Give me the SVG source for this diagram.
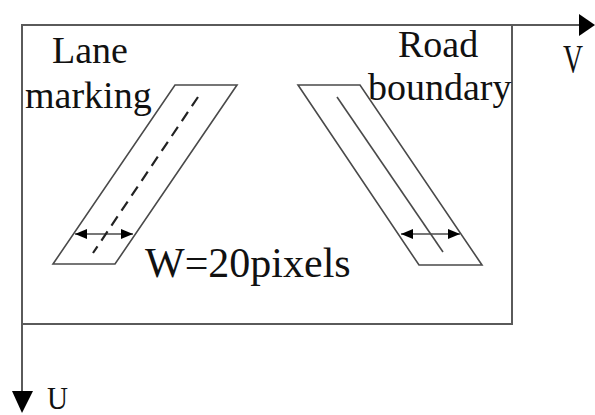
<svg xmlns="http://www.w3.org/2000/svg" width="595" height="415" viewBox="0 0 595 415">
<style>
.ax{stroke:#5a5a5a;stroke-width:2;fill:none}
.sh{stroke:#4a4a4a;stroke-width:1.6;fill:none}
.dash{stroke:#222;stroke-width:2.2;fill:none;stroke-dasharray:11,7}
.t{font-family:"Liberation Serif","Times New Roman",serif;fill:#111}
.ah{fill:#000}
</style>
<defs>
<marker id="a" viewBox="0 0 12 10" refX="12" refY="5" markerWidth="12" markerHeight="10" markerUnits="userSpaceOnUse" orient="auto-start-reverse">
<path d="M0,0 L12,5 L0,10 Z" fill="#000"/>
</marker>
</defs>
<rect width="595" height="415" fill="#fff"/>
<g id="frame">
<rect class="ax" x="22" y="25" width="490" height="299"/>
</g>
<g id="connectors">
<line class="ax" x1="22" y1="25" x2="582" y2="25"/>
<polygon class="ah" points="579,14 595,25 579,36"/>
<line class="ax" x1="22" y1="25" x2="22" y2="400"/>
<polygon class="ah" points="12,391 33,391 22,413"/>
<line class="sh" x1="75" y1="234" x2="133" y2="234" marker-start="url(#a)" marker-end="url(#a)"/>
<line class="sh" x1="401" y1="234" x2="460" y2="234" marker-start="url(#a)" marker-end="url(#a)"/>
</g>
<g id="lane-marking">
<polygon class="sh" points="175,85 237,85 115,264 53,264"/>
<line class="dash" x1="198" y1="97" x2="93" y2="253"/>
</g>
<g id="road-boundary">
<polygon class="sh" points="298,85 360,85 482,265 419,265"/>
<line class="sh" x1="337" y1="97" x2="443" y2="252"/>
</g>
<g id="labels">
<text class="t" x="52" y="63" font-size="38">Lane</text>
<text class="t" x="25" y="108" font-size="38">marking</text>
<text class="t" x="398" y="57" font-size="38">Road</text>
<text class="t" x="368" y="100" font-size="38">boundary</text>
<text class="t" x="145" y="277" font-size="42">W=20pixels</text>
<text class="t" x="563" y="72" font-size="40" textLength="20" lengthAdjust="spacingAndGlyphs">V</text>
<text class="t" x="47" y="409" font-size="32" textLength="21" lengthAdjust="spacingAndGlyphs">U</text>
</g>
</svg>
